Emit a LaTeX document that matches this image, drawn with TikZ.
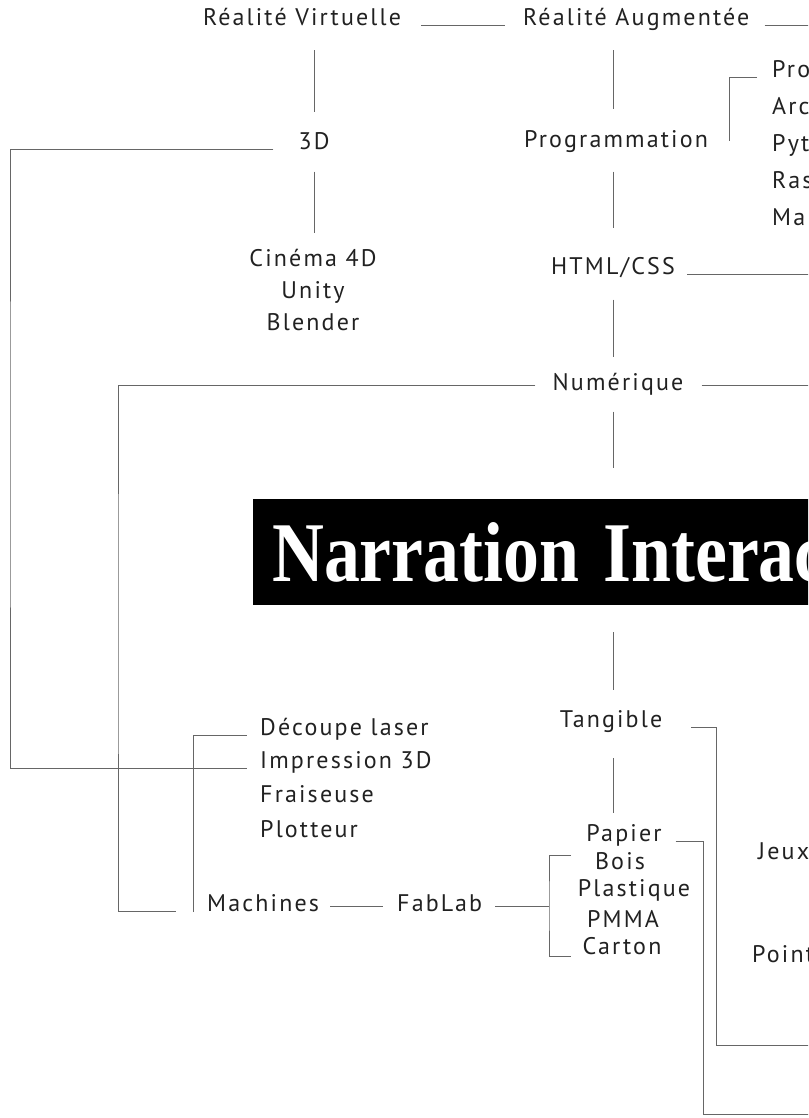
\documentclass[tikz,border=0pt]{standalone}
\usepackage{fontspec}
\setmainfont{PT Sans}[LetterSpace=9]
\newfontfamily\titrefont{Liberation Serif}
\definecolor{trait}{gray}{0.4}
\definecolor{encre}{gray}{0.13}
\tikzset{
  police/.style={font=\fontsize{24}{32}\selectfont, text=encre, inner sep=0pt},
  etiq/.style={police, text height=15pt, text depth=5pt},
  lien/.style={draw=trait, line width=1pt},
  titre/.style={fill=black, text=white, anchor=north west, minimum height=106pt,
    inner xsep=19pt, inner ysep=0pt, text width=620pt, align=left,
    font=\titrefont\bfseries\fontsize{85}{90}\selectfont}
}

\begin{document}
\begin{tikzpicture}[x=1pt, y=-1pt]
\useasboundingbox (0,0) rectangle (808,1118);
\clip (0,0) rectangle (808,1118);

\coordinate (bordD) at (812,0);

\node[etiq, anchor=base] (rv) at (302,26) {Réalité Virtuelle};
\node[etiq, anchor=base west] (ra) at (523,26) {Réalité Augmentée};
\node[etiq, anchor=base] (d3) at (314,149.5) {3D};
\node[police, anchor=north, align=center] (cine) at (313,249) {Cinéma 4D\\Unity\\Blender};

\node[etiq, anchor=base] (prog) at (616,147.5) {Programmation};
\node[etiq, anchor=base] (html) at (613,274.5) {HTML/CSS};
\node[etiq, anchor=base] (num) at (618,390.5) {Numérique};
\node[titre] (titre) at (253,499) {\scalebox{0.845}[1]{Narration Interac}};
\node[etiq, anchor=base] (tang) at (611,727) {Tangible};
\node[etiq, anchor=base] (papier) at (624,841.5) {Papier};
\node[etiq, anchor=base] (bois) at (620,869.5) {Bois};
\node[etiq, anchor=base] (plast) at (634,896.5) {Plastique};
\node[etiq, anchor=base] (pmma) at (623,927.5) {PMMA};
\node[etiq, anchor=base] (carton) at (622,954.5) {Carton};

\node[etiq, anchor=base west] (pro) at (772,77.5) {Pro};
\node[etiq, anchor=base west] (arc) at (772,114.5) {Arc};
\node[etiq, anchor=base west] (pyt) at (772,151.5) {Pyt};
\node[etiq, anchor=base west] (ras) at (772,188.5) {Ras};
\node[etiq, anchor=base west] (ma) at (772,225.5) {Ma};

\node[etiq, anchor=base west] (decoupe) at (260,735.5) {Découpe laser};
\node[etiq, anchor=base west] (impr) at (260,768.5) {Impression 3D};
\node[etiq, anchor=base west] (frai) at (260,802.5) {Fraiseuse};
\node[etiq, anchor=base west] (plot) at (260,837.5) {Plotteur};
\node[etiq, anchor=base west] (machines) at (207,911) {Machines};
\node[etiq, anchor=base west] (fablab) at (397,911) {FabLab};

\node[etiq, anchor=base west] (jeux) at (758,859.5) {Jeux};
\node[etiq, anchor=base west] (point) at (752,962.5) {Point};

% haut
\draw[lien, shorten <=20pt, shorten >=18pt] (rv.base east) -- (ra.base west);
\draw[lien, shorten <=15pt] (ra.base east) -- (ra.base east -| bordD);
\draw[lien, shorten <=19pt, shorten >=22pt] (d3 |- rv.south) -- (d3.north);
\draw[lien, shorten <=17pt, shorten >=16pt] (d3.south) -- (d3 |- cine.north);

% colonne centrale
\draw[lien, shorten <=19pt, shorten >=23pt] (html |- ra.south) -- (html |- prog.north);
\draw[lien, shorten <=19pt, shorten >=31pt] (html |- prog.south) -- (html.north);
\draw[lien, shorten <=20pt, shorten >=18pt] (html.south) -- (html |- num.north);
\draw[lien, shorten <=16pt, shorten >=31pt] (html |- num.south) -- (html |- titre.north);
\draw[lien, shorten <=27pt, shorten >=22pt] (html |- titre.south) -- (html |- tang.north);
\draw[lien, shorten <=26pt, shorten >=13pt] (html |- tang.south) -- (html |- papier.north);

\coordinate (crochetP) at (729,141);
\draw[lien, shorten <=15pt] (pro.base west) -| (crochetP);
\draw[lien, shorten <=12pt] (html.base east) -- (html.base east -| bordD);
\draw[lien, shorten <=18pt] (num.east) -- (num.east -| bordD);

% gauche
\coordinate (gauche3D) at (10,450);
\coordinate (gaucheNum) at (118,600);
\draw[lien, shorten <=25pt, shorten >=13pt] (d3.base west) -| (gauche3D) |- (impr.base west);
\draw[lien, shorten <=17pt, shorten >=31pt] (num.west) -| (gaucheNum) |- (machines.base west);

\coordinate (crochetM) at (193,912);
\draw[lien, shorten >=13pt] (crochetM) |- (decoupe.base west);
\draw[lien, shorten <=11pt, shorten >=14pt] (machines.east) -- (fablab.west);

\coordinate (crochetFL) at (549,906);
\coordinate (crochetH) at (571,855);
\coordinate (crochetB) at (571,956);
\draw[lien, shorten <=13pt] (fablab.east) -- (crochetFL);
\draw[lien] (crochetH) -| (crochetFL) |- (crochetB);

% tangible
\coordinate (coinT) at (716,900);
\coordinate (basT) at (812,1045);
\coordinate (coinP) at (703,1000);
\coordinate (basP) at (812,1114);
\draw[lien, shorten <=29pt] (tang.base east) -| (coinT) |- (basT);
\draw[lien, shorten <=14pt] (papier.base east) -| (coinP) |- (basP);
\end{tikzpicture}
\end{document}
